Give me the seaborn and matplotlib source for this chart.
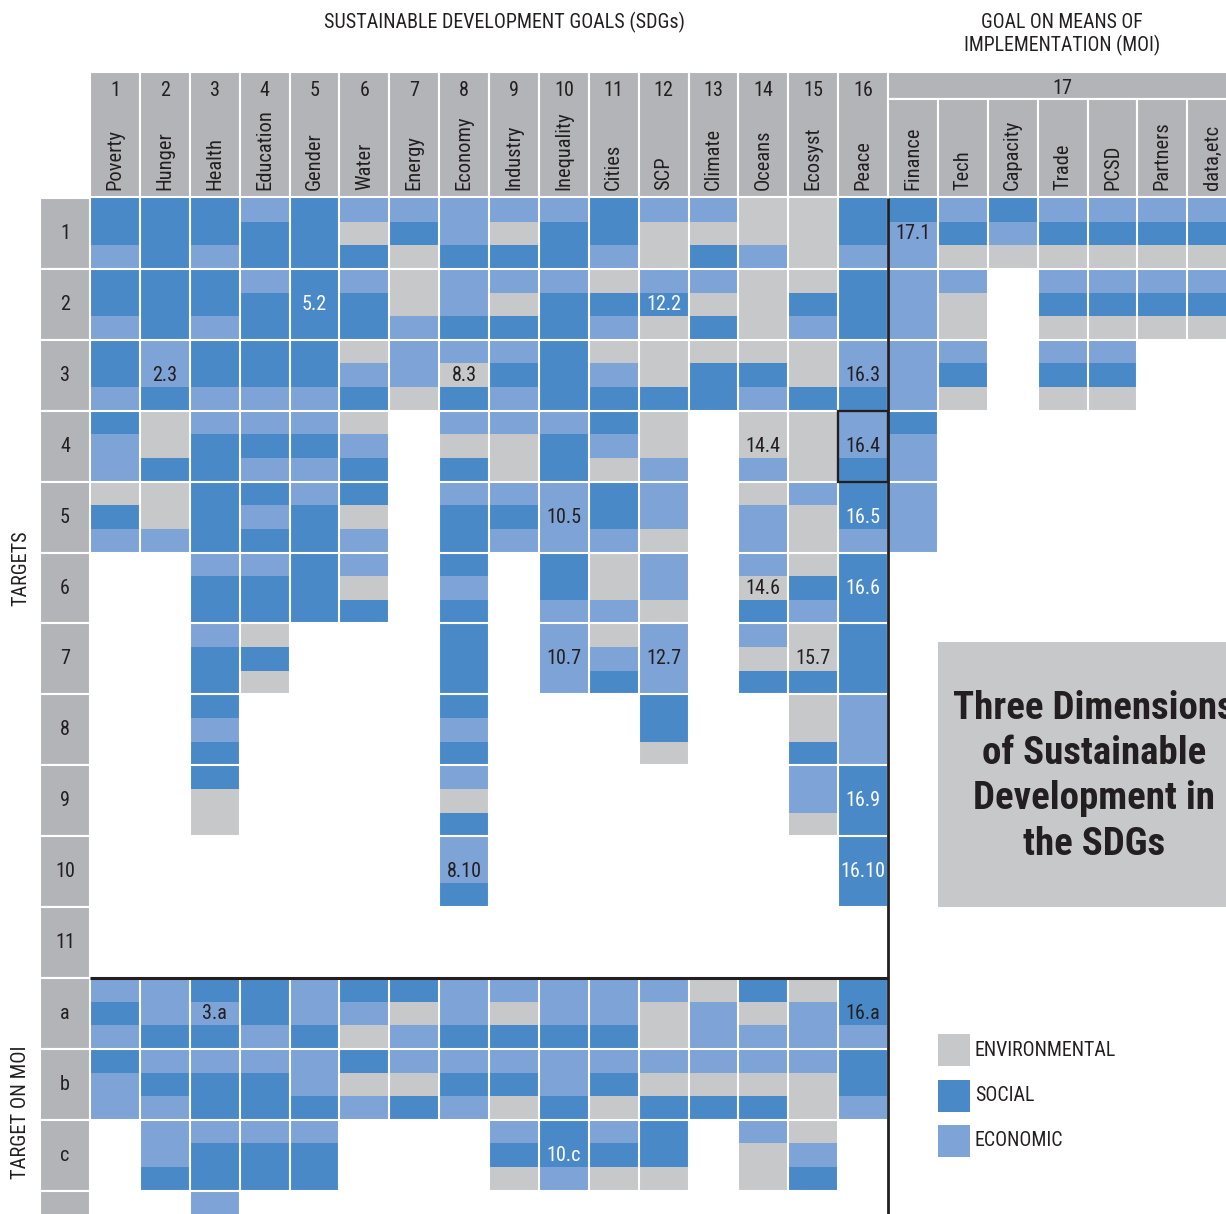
import numpy as np
import matplotlib.pyplot as plt
from matplotlib.colors import ListedColormap
from matplotlib.patches import Rectangle
import seaborn as sns

sns.set_style("white")
plt.rcParams['font.family'] = ['Roboto Condensed', 'PT Sans Narrow', 'Liberation Sans',
                               'DejaVu Sans']

# colours of the three dimensions
ENV = '#c7c8ca'
SOC = '#4a89c8'
ECO = '#7ea3d6'
HEAD = '#b3b4b8'
INK = '#231f20'

goal_numbers = [str(i) for i in range(1, 17)]
goal_names = ['Poverty', 'Hunger', 'Health', 'Education', 'Gender', 'Water', 'Energy',
              'Economy', 'Industry', 'Inequality', 'Cities', 'SCP', 'Climate', 'Oceans',
              'Ecosyst', 'Peace']
moi_names = ['Finance', 'Tech', 'Capacity', 'Trade', 'PCSD', 'Partners', 'data,etc']
target_labels = ['1', '2', '3', '4', '5', '6', '7', '8', '9', '10', '11', 'a', 'b', 'c', '']

# each cell = three stripes, top to bottom: E environmental, S social, C economic
# columns: goals 1..16, then the seven goal-17 groups; '' = no target
t1 = ['SSC', 'SSS', 'SSC', 'CSS', 'SSS', 'CES', 'CSE', 'CCS', 'CES', 'CSS', 'SSC', 'CEE',
      'CES', 'EEC', 'EEE', 'SSC', 'SCC', 'CSE', 'SCE', 'CSE', 'CSE', 'CSE', 'CSE']
t2 = ['SSC', 'SSS', 'SSC', 'CSS', 'SSS', 'CSS', 'EEC', 'CCS', 'CES', 'CSS', 'ESC', 'CSE',
      'CES', 'EEE', 'ESC', 'SSS', 'CCC', 'CEE', '', 'CSE', 'CSE', 'CSE', 'CSE']
t3 = ['SSC', 'CCS', 'SSC', 'SSC', 'SSC', 'ECS', 'CCE', 'CES', 'CSC', 'SSS', 'ECS', 'EES',
      'ESS', 'ESC', 'EES', 'CCS', 'CCC', 'CSE', '', 'CSE', 'CSE', '', '']
t4 = ['SCC', 'EES', 'CSS', 'CSC', 'CSC', 'ECS', '', 'CES', 'CEE', 'CSS', 'SCE', 'EEC',
      '', 'EEC', 'EEE', 'CCS', 'SCC', '', '', '', '', '', '']
t5 = ['ESC', 'EEC', 'SSS', 'SCS', 'CSS', 'SEC', '', 'CSS', 'CSC', 'CCC', 'SSC', 'CCE',
      '', 'ECC', 'CEE', 'SSC', 'CCC', '', '', '', '', '', '']
t6 = ['', '', 'CSS', 'CSS', 'SSS', 'CES', '', 'SCS', '', 'SSC', 'EEC', 'CCE',
      '', 'CES', 'ESC', 'SSS', '', '', '', '', '', '', '']
t7 = ['', '', 'CSS', 'ESE', '', '', '', 'SSS', '', 'CCC', 'ECS', 'CCC',
      '', 'CES', 'EES', 'SSS', '', '', '', '', '', '', '']
t8 = ['', '', 'SCS', '', '', '', '', 'SCS', '', '', '', 'SSE',
      '', '', 'EES', 'CCC', '', '', '', '', '', '', '']
t9 = ['', '', 'SEE', '', '', '', '', 'CES', '', '', '', '',
      '', '', 'CCE', 'SSS', '', '', '', '', '', '', '']
t10 = ['', '', '', '', '', '', '', 'CCS', '', '', '', '',
       '', '', '', 'SSS', '', '', '', '', '', '', '']
t11 = [''] * 23
ta = ['CSC', 'CCS', 'SCS', 'SSC', 'CCS', 'SCE', 'SEC', 'CCS', 'CES', 'CCS', 'CCS', 'CEE',
      'ECC', 'SEC', 'ECC', 'SSC', '', '', '', '', '', '', '']
tb = ['SCC', 'CSC', 'CSS', 'CSS', 'CCS', 'SEC', 'CES', 'CSC', 'CSE', 'CCS', 'CSE', 'CES',
      'CES', 'CES', 'CEE', 'SSC', '', '', '', '', '', '', '']
tc = ['', 'CCS', 'CSS', 'CSS', 'CSS', '', '', '', 'CSE', 'SSC', 'CSE', 'SSE',
      '', 'CEE', 'ECS', '', '', '', '', '', '', '', '']
td = ['', '', 'CCC', '', '', '', '', '', '', '', '', '',
      '', '', '', '', '', '', '', '', '', '', '']
target_cells = [t1, t2, t3, t4, t5, t6, t7, t8, t9, t10, t11, ta, tb, tc, td]

# target numbers written in some cells
label_text = ['2.3', '5.2', '8.3', '12.2', '16.3', '14.4', '16.4', '10.5', '16.5', '17.1',
              '14.6', '16.6', '10.7', '12.7', '15.7', '16.9', '8.10', '16.10', '3.a',
              '16.a', '10.c']
label_col = [1, 4, 7, 11, 15, 13, 15, 9, 15, 16, 13, 15, 9, 11, 14, 15, 7, 15, 2, 15, 9]
label_row = [2, 1, 2, 1, 2, 3, 3, 4, 4, 0, 5, 5, 6, 6, 6, 8, 9, 9, 11, 11, 13]
label_white = [False, True, False, True, False, False, False, False, True, False,
               False, True, False, False, False, True, False, True, False, False, True]

legend_names = ['ENVIRONMENTAL', 'SOCIAL', 'ECONOMIC']

code = {'E': 0, 'S': 1, 'C': 2}
n_cols = len(goal_names) + len(moi_names)
grid = np.full((len(target_cells) * 3, n_cols), np.nan)
for r, row in enumerate(target_cells):
    for c, cell in enumerate(row):
        for b, ch in enumerate(cell):
            grid[r * 3 + b, c] = code[ch]

W, H = 1226, 1214
COL_PX = 798 / 16.0
BAND_PX = 780 / 33.0
X0, Y0 = 90, 198


def xu(px):
    return (px - X0) / COL_PX


def yu(px):
    return (px - Y0) / BAND_PX


fig = plt.figure(figsize=(W / 100, H / 100), dpi=100)
ax = fig.add_axes([X0 / W, 0, (W - X0) / W, (H - Y0) / H])
sns.heatmap(grid, cmap=ListedColormap([ENV, SOC, ECO]), vmin=-0.5, vmax=2.5, cbar=False,
            xticklabels=False, yticklabels=False, ax=ax)
ax.set_xlim(0, xu(W))
ax.set_ylim(yu(H), 0)
ax.set_axis_off()

# white gutters between cells
ax.vlines(np.arange(1, n_cols), 0, grid.shape[0], color='white', lw=1.5)
ax.hlines(np.arange(3, grid.shape[0], 3), 0, n_cols, color='white', lw=1.5)

# cell labels
for txt, c, r, wh in zip(label_text, label_col, label_row, label_white):
    ax.text(c + 0.5, r * 3 + 1.5, txt, ha='center', va='center', fontsize=14.5,
            color='white' if wh else INK)

# separators
ax.vlines(16, 0, grid.shape[0], color=INK, lw=2)
ax.hlines(33, 0, 16, color=INK, lw=2.2)
ax.add_patch(Rectangle((15, 9), 1, 3, fill=False, ec=INK, lw=1.7, zorder=5))

# goal headers
for i, (num, name) in enumerate(zip(goal_numbers, goal_names)):
    ax.add_patch(Rectangle((i, yu(72)), 1, yu(197) - yu(72), fc=HEAD, ec='white', lw=1.5,
                           clip_on=False))
    ax.text(i + 0.5, yu(90), num, ha='center', va='center', fontsize=14.5, color=INK,
            clip_on=False)
    ax.text(i + 0.5, yu(190), name, ha='center', va='bottom', rotation=90, fontsize=14.8,
            color=INK, clip_on=False)

ax.add_patch(Rectangle((16, yu(72)), len(moi_names), yu(99) - yu(72), fc=HEAD, ec='white',
                       lw=1.5, clip_on=False))
ax.text(16 + len(moi_names) / 2, yu(88), '17', ha='center', va='center', fontsize=14.5,
        color=INK, clip_on=False)
for j, name in enumerate(moi_names):
    ax.add_patch(Rectangle((16 + j, yu(99)), 1, yu(197) - yu(99), fc=HEAD, ec='white',
                           lw=1.5, clip_on=False))
    ax.text(16 + j + 0.5, yu(190), name, ha='center', va='bottom', rotation=90,
            fontsize=14.8, color=INK, clip_on=False)

# target row headers
for r, lab in enumerate(target_labels):
    ax.add_patch(Rectangle((xu(40), r * 3), xu(90) - xu(40), 3, fc=HEAD, ec='white',
                           lw=1.5, clip_on=False))
    ax.text(xu(65), r * 3 + 1.5, lab, ha='center', va='center', fontsize=14.5, color=INK,
            clip_on=False)

ax.text(xu(21), yu(568), 'TARGETS', rotation=90, ha='center', va='center', fontsize=14.5,
        color=INK, clip_on=False)
ax.text(xu(21), yu(1112), 'TARGET ON MOI', rotation=90, ha='center', va='center',
        fontsize=14.8, color=INK, clip_on=False)

ax.text(xu(504), yu(22), 'SUSTAINABLE DEVELOPMENT GOALS (SDGs)', ha='center',
        va='center', fontsize=14.4, color=INK, clip_on=False)
ax.text(xu(1062), yu(22), 'GOAL ON MEANS OF', ha='center', va='center', fontsize=14.2,
        color=INK, clip_on=False)
ax.text(xu(1062), yu(45), 'IMPLEMENTATION (MOI)', ha='center', va='center',
        fontsize=14.2, color=INK, clip_on=False)

# title box
ax.add_patch(Rectangle((xu(938), yu(642)), xu(W + 20) - xu(938), yu(907) - yu(642),
                       fc=ENV, ec='none', clip_on=False, zorder=3))
title_lines = ['Three Dimensions', 'of Sustainable', 'Development in', 'the SDGs']
for k, line in enumerate(title_lines):
    ax.text(xu(1094), yu(719 + 45.2 * k), line, ha='center', va='baseline', fontsize=28,
            fontweight='bold', color=INK, zorder=4)

# legend
for k, (name, col) in enumerate(zip(legend_names, [ENV, SOC, ECO])):
    top = 1034 + 45.5 * k
    ax.add_patch(Rectangle((xu(938), yu(top)), xu(970) - xu(938), yu(top + 32) - yu(top),
                           fc=col, ec='none', zorder=3))
    ax.text(xu(975), yu(top + 16), name, ha='left', va='center', fontsize=14.3,
            color=INK, zorder=4)

fig.savefig('out.png', dpi=100)
